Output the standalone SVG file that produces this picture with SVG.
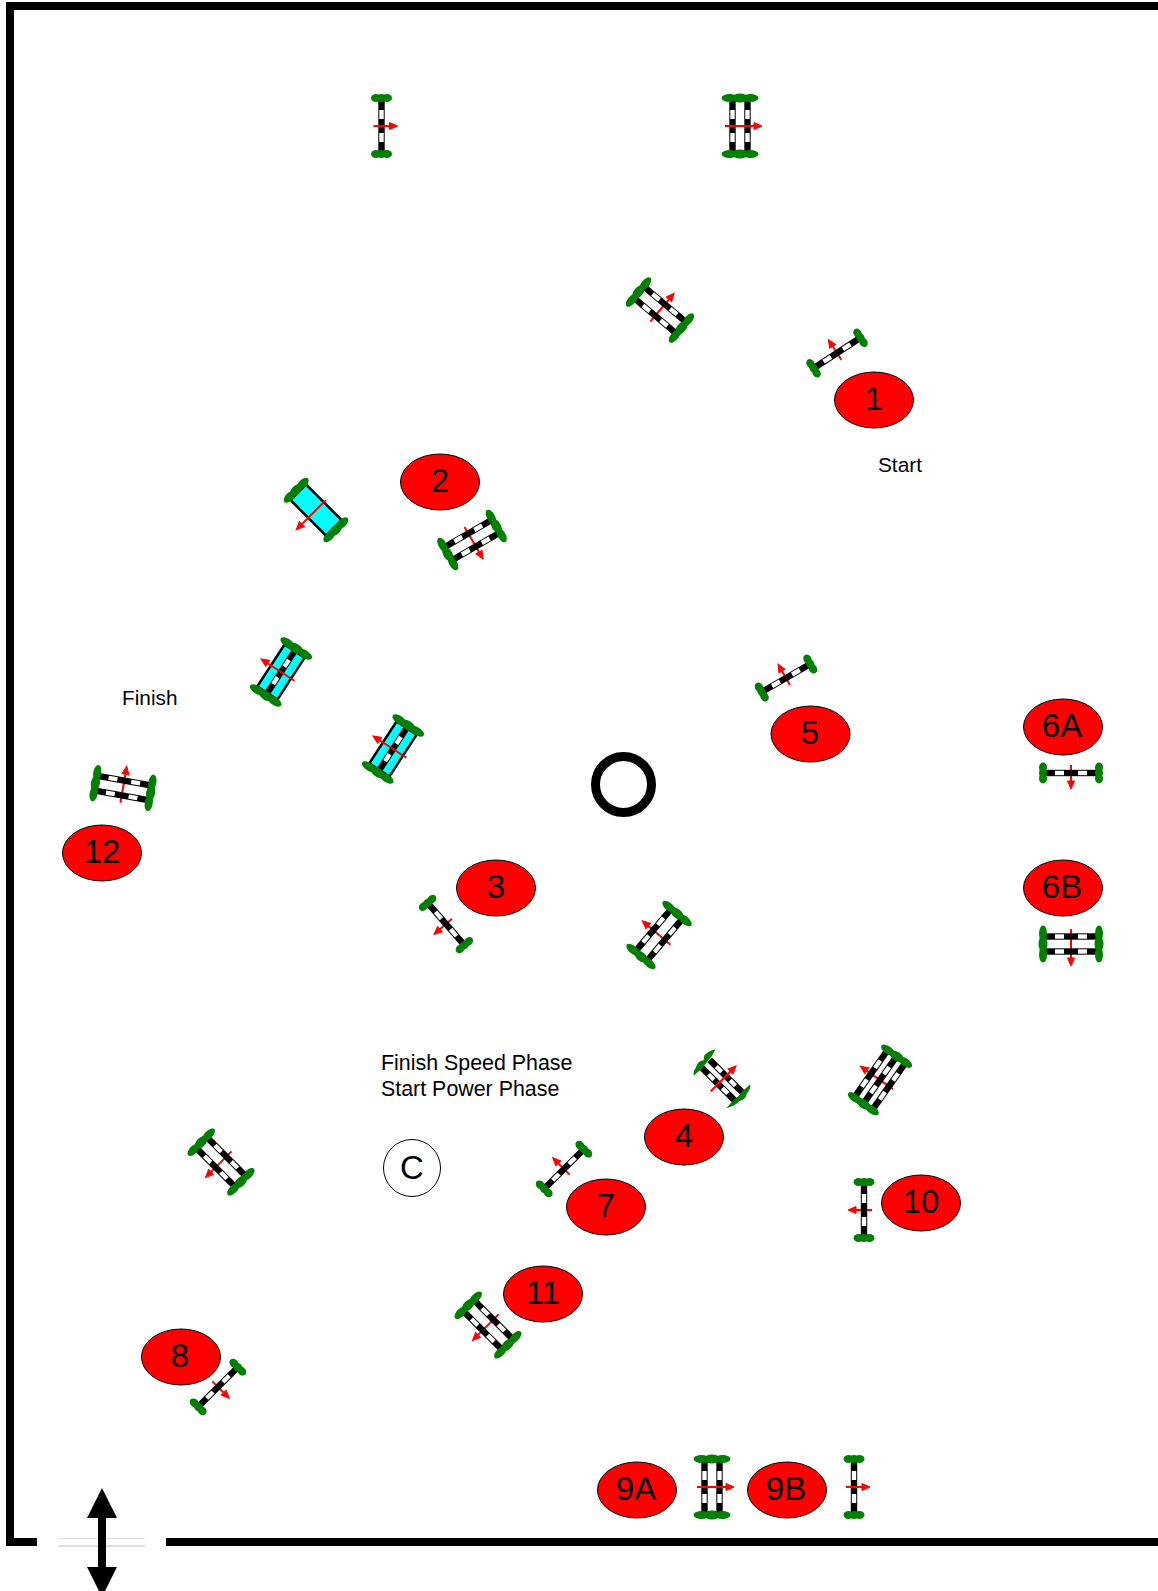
<svg xmlns="http://www.w3.org/2000/svg" width="1158" height="1591" viewBox="0 0 1158 1591">
<style>
.b{font-family:"Liberation Sans",Arial,sans-serif;fill:#000}
.n{font-size:33px;text-anchor:middle}
.t{font-size:21.4px}
.u{font-size:20.8px}
.bubble{fill:#f00;stroke:#000;stroke-width:1}
.g{fill:#008000}
.r{fill:#000}
.w{fill:#fff}
.a{stroke:#f00;stroke-width:2;fill:none}
.h{fill:#f00;stroke:#f00;stroke-width:1}
.f{fill:none;stroke:#000;stroke-width:8}
.c{fill:#0ff;stroke:#000;stroke-width:2.500}
</style>
<defs>
<g id="g1"><ellipse class="g" cx="-5.500" cy="0" rx="5" ry="4"/><ellipse class="g" cx="0" cy="0" rx="5" ry="4"/><ellipse class="g" cx="5.500" cy="0" rx="5" ry="4"/></g>
<g id="g2"><ellipse class="g" cx="-10.500" cy="0" rx="8" ry="4"/><ellipse class="g" cx="0" cy="0" rx="8" ry="4.500"/><ellipse class="g" cx="10.500" cy="0" rx="8" ry="4"/></g>
<g id="rail"><rect class="r" x="-3.200" y="-27" width="6.400" height="54"/><rect class="w" x="-2.200" y="-16" width="4.400" height="9"/><rect class="w" x="-2.200" y="7" width="4.400" height="9"/></g>
<g id="sa"><path class="a" d="M-8 0H8"/><path class="h" d="M8-3.500L16 0L8 3.500Z"/></g>
<g id="da"><path class="a" d="M-15 0H14"/><path class="h" d="M14-3.500L22 0L14 3.500Z"/></g>
<g id="s"><use href="#rail"/><use href="#g1" y="-28"/><use href="#g1" y="28"/><use href="#sa"/></g>
<g id="su"><use href="#sa"/><use href="#rail"/><use href="#g1" y="-28"/><use href="#g1" y="28"/></g>
<g id="d"><use href="#rail" x="-7.500"/><use href="#rail" x="7.500"/><use href="#g2" y="-28"/><use href="#g2" y="28"/><use href="#da"/></g>
<g id="du"><use href="#da"/><use href="#rail" x="-7.500"/><use href="#rail" x="7.500"/><use href="#g2" y="-28"/><use href="#g2" y="28"/></g>
<g id="dn"><g transform="scale(1 .85)"><use href="#rail" x="-5.500"/><use href="#rail" x="5.500"/></g><path class="g" d="M-17-23Q-14-27-10-27Q-4-31 1-27L5-30Q12-30 17-26Q8-23 0-23Q-8-22-17-23Z M-17 23Q-8 28-3 27Q4 31 8 27Q14 27 17 23Q8 22 0 23Q-8 22-17 23Z"/><path class="a" d="M-16 0H12"/><path class="h" d="M12-3.500L20 0L12 3.500Z"/></g>
<g id="t3"><path class="a" d="M-16 0H16"/><path class="h" d="M16-3.500L24 0L16 3.500Z"/><use href="#rail" x="-11"/><use href="#rail" x="0"/><use href="#rail" x="11"/><use href="#g2" y="-29"/><use href="#g2" y="29"/></g>
<g id="wt"><rect class="c" x="-11" y="-25" width="22" height="50"/><use href="#g2" y="-28" transform="scale(.9 1)"/><use href="#g2" y="28" transform="scale(.9 1)"/><path class="a" d="M-14 0H20"/><path class="h" d="M20-3.500L28 0L20 3.500Z"/></g>
<g id="wd"><rect class="c" x="-12" y="-25" width="24" height="50"/><use href="#rail" transform="scale(1 .9)"/><use href="#g2" y="-28"/><use href="#g2" y="28"/><path class="a" d="M-16 0H16"/><path class="h" d="M16-3.500L24 0L16 3.500Z"/></g>
</defs>

<g id="frame">
<path class="f" d="M1158 6H10V1542H37M166 1542H1158"/>
<path d="M58 1538.500H145" stroke="#e4e4e4" stroke-width="1" fill="none"/>
<path d="M58 1546H145" stroke="#bbb" stroke-width="1" fill="none"/>
<path d="M98 1518V1567H87L102 1597L117 1567H106V1518H117L102 1488L87 1518Z" fill="#000"/>
</g>

<g id="connectors"></g>

<g id="jump-a"><use href="#s" transform="translate(381.500 126)"/></g>
<g id="jump-b"><use href="#d" transform="translate(740 126)"/></g>
<g id="jump-c"><use href="#du" transform="translate(660 310) rotate(-50)"/></g>
<g id="jump-1"><use href="#su" transform="translate(837 353) rotate(-123)"/></g>
<g id="jump-e"><use href="#wt" transform="translate(316 510) rotate(135)"/></g>
<g id="jump-2"><use href="#du" transform="translate(472 540) rotate(60)"/></g>
<g id="jump-g"><use href="#wd" transform="translate(281 672) rotate(-147)"/></g>
<g id="jump-h"><use href="#wd" transform="translate(393 749) rotate(-147)"/></g>
<g id="jump-12"><use href="#du" transform="translate(123 788) rotate(-80)"/></g>
<g id="jump-5"><use href="#su" transform="translate(786 678) rotate(-120)"/></g>
<g id="jump-6a"><use href="#su" transform="translate(1071 773) rotate(90)"/></g>
<g id="jump-6b"><use href="#du" transform="translate(1071 944) rotate(90)"/></g>
<g id="jump-3"><use href="#su" transform="translate(446 924) rotate(139)"/></g>
<g id="jump-n"><use href="#du" transform="translate(659 935) rotate(-140)"/></g>
<g id="jump-4"><use href="#dn" transform="translate(722 1080) rotate(-45)"/></g>
<g id="jump-p"><use href="#t3" transform="translate(880 1080) rotate(-145)"/></g>
<g id="jump-7"><use href="#su" transform="translate(564 1169) rotate(-135)"/></g>
<g id="jump-r"><use href="#du" transform="translate(221 1162) rotate(135)"/></g>
<g id="jump-10"><use href="#su" transform="translate(864 1210) rotate(180)"/></g>
<g id="jump-11"><use href="#du" transform="translate(488 1325) rotate(135)"/></g>
<g id="jump-8"><use href="#su" transform="translate(218 1387) rotate(45)"/></g>
<g id="jump-9a"><use href="#d" transform="translate(712 1487)"/></g>
<g id="jump-9b"><use href="#s" transform="translate(854 1487)"/></g>

<g id="ring"><circle cx="623.500" cy="784.500" r="28" fill="none" stroke="#000" stroke-width="9"/></g>
<g id="c"><circle cx="412" cy="1168" r="28.500" fill="#fff" stroke="#000" stroke-width="1"/><text class="b n" x="412" y="1179">C</text></g>

<g id="n1"><ellipse class="bubble" cx="874" cy="400" rx="39.500" ry="28"/><text class="b n" x="874" y="410">1</text></g>
<g id="n2"><ellipse class="bubble" cx="440" cy="482" rx="39.500" ry="28"/><text class="b n" x="440" y="492">2</text></g>
<g id="n3"><ellipse class="bubble" cx="496" cy="888" rx="39.500" ry="28"/><text class="b n" x="496" y="898">3</text></g>
<g id="n4"><ellipse class="bubble" cx="684" cy="1137" rx="39.500" ry="28"/><text class="b n" x="684" y="1147">4</text></g>
<g id="n5"><ellipse class="bubble" cx="810.500" cy="734" rx="39.500" ry="28"/><text class="b n" x="810" y="744">5</text></g>
<g id="n6a"><ellipse class="bubble" cx="1063" cy="727" rx="39.500" ry="28"/><text class="b n" x="1062" y="737">6A</text></g>
<g id="n6b"><ellipse class="bubble" cx="1063" cy="888" rx="39.500" ry="28"/><text class="b n" x="1062" y="898">6B</text></g>
<g id="n7"><ellipse class="bubble" cx="606" cy="1207" rx="39.500" ry="28"/><text class="b n" x="606" y="1217">7</text></g>
<g id="n8"><ellipse class="bubble" cx="181" cy="1357" rx="39.500" ry="28"/><text class="b n" x="180" y="1367">8</text></g>
<g id="n9a"><ellipse class="bubble" cx="637" cy="1490" rx="39.500" ry="28"/><text class="b n" x="636" y="1500">9A</text></g>
<g id="n9b"><ellipse class="bubble" cx="787" cy="1490" rx="39.500" ry="28"/><text class="b n" x="786" y="1500">9B</text></g>
<g id="n10"><ellipse class="bubble" cx="921" cy="1203" rx="39.500" ry="28"/><text class="b n" x="921" y="1213">10</text></g>
<g id="n11"><ellipse class="bubble" cx="543" cy="1294" rx="39.500" ry="28"/><text class="b n" x="543" y="1304">11</text></g>
<g id="n12"><ellipse class="bubble" cx="102" cy="853" rx="39.500" ry="28"/><text class="b n" x="102" y="863">12</text></g>

<g id="labels">
<text class="b u" x="878" y="472">Start</text>
<text class="b u" x="122" y="705">Finish</text>
<text class="b t" x="381" y="1070">Finish Speed Phase</text>
<text class="b t" x="381" y="1096">Start Power Phase</text>
</g>
</svg>
